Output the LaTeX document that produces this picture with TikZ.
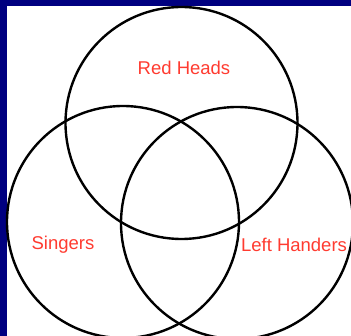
\documentclass[tikz,border=0pt]{standalone}
\usepackage{fontspec}
\setmainfont{Liberation Sans}
\usetikzlibrary{positioning}
\definecolor{frame}{RGB}{0,0,128}
\definecolor{setred}{RGB}{255,59,48}

\begin{document}
\begin{tikzpicture}[
    x=1pt, y=-1pt,
    set/.style={circle,draw,line width=2.4pt,minimum size=232pt,inner sep=0pt},
    lbl/.style={font=\fontsize{18.5}{22}\selectfont,text=setred}
]
    % Frame and canvas
    \useasboundingbox (0,0) rectangle (351,336);
    \clip (0,0) rectangle (351,336);
    \fill[frame] (0,0) rectangle (351,336);
    \fill[white] (7,6) rectangle (351,336);

    % The three sets
    \node[set] (heads) at (181.5,123) {};
    \node[set] (sing) at (123,222) {};
    \node[set] (left) at (237,223) {};

    % Labels
    \node[lbl] (headslbl) at (184,68) {Red Heads};
    \node[lbl] (singlbl) at (63,245) {Singers};
    \node[lbl] (leftlbl) at (294,245) {Left Handers};
\end{tikzpicture}
\end{document}
